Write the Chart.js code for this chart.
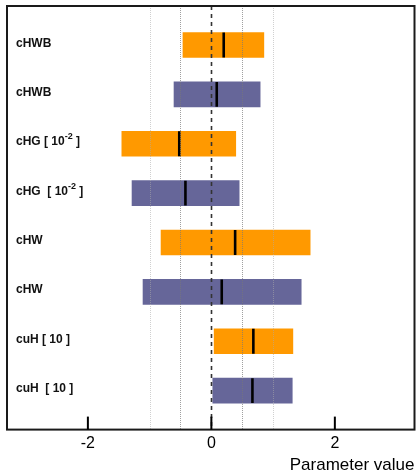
<!DOCTYPE html>
<html>
<head>
<meta charset="utf-8">
<script src="https://cdn.jsdelivr.net/npm/chart.js@4/dist/chart.umd.min.js"></script>
<style>
  html, body { margin: 0; padding: 0; background: #ffffff; }
  #wrap { width: 416px; height: 474px; position: relative; }
</style>
</head>
<body>
<div id="wrap"><canvas id="chart"></canvas></div>
<script>
// Row labels, top to bottom. "^{...}" marks a superscript.
const rowLabels = [
  'cHWB',
  'cHWB',
  'cHG [ 10^{-2} ]',
  'cHG  [ 10^{-2} ]',
  'cHW',
  'cHW',
  'cuH [ 10 ]',
  'cuH  [ 10 ]'
];

// Orange fit: rows, interval low/high, best value
const orangeRows = [0, 2, 4, 6];
const orangeLow  = [-0.46, -1.45, -0.815, 0.045];
const orangeHigh = [0.85, 0.395, 1.60, 1.32];
const orangeBest = [0.20, -0.52, 0.385, 0.68];

// Purple fit: rows, interval low/high, best value
const purpleRows = [1, 3, 5, 7];
const purpleLow  = [-0.605, -1.285, -1.107, 0.023];
const purpleHigh = [0.79, 0.45, 1.455, 1.31];
const purpleBest = [0.087, -0.42, 0.168, 0.665];

// Axis ticks and vertical guide lines (value units)
const xTicks = [-2, 0, 2];
const guideNear = [-0.5, 0.5];
const guideFar = [-1, 1];
const zeroLine = 0;

const FONT = "'Liberation Sans', Arial, Helvetica, sans-serif";
const ORANGE = '#ff9900';
const PURPLE = '#666699';

const intervals = (rows, lo, hi) => rows.map((r, i) => ({ y: r, x: [lo[i], hi[i]] }));
const points = (rows, v) => rows.map((r, i) => ({ y: r, x: v[i] }));

// Guides, zero line, frame, inner tick marks and row labels
const decorations = {
  id: 'decorations',
  afterDatasetsDraw(chart) {
    const { ctx, chartArea: a, scales: { x, y } } = chart;
    ctx.save();

    const vline = (v, color, width, dash) => {
      const px = Math.round(x.getPixelForValue(v)) + 0.5;
      ctx.beginPath();
      ctx.strokeStyle = color;
      ctx.lineWidth = width;
      ctx.setLineDash(dash);
      ctx.moveTo(px, a.top);
      ctx.lineTo(px, a.bottom);
      ctx.stroke();
    };
    guideFar.forEach(v => vline(v, 'rgba(170,170,170,0.55)', 1, [1, 1]));
    guideNear.forEach(v => vline(v, 'rgba(120,120,120,0.7)', 1, [1, 1]));
    vline(zeroLine, '#333333', 1.6, [4, 4]);
    ctx.setLineDash([]);

    // frame
    ctx.strokeStyle = '#1a1a1a';
    ctx.lineWidth = 2;
    ctx.strokeRect(a.left, a.top, a.right - a.left, a.bottom - a.top);

    // tick marks pointing into the plot
    ctx.lineWidth = 2;
    ctx.strokeStyle = '#000000';
    xTicks.forEach(v => {
      const px = x.getPixelForValue(v);
      ctx.beginPath();
      ctx.moveTo(px, a.bottom);
      ctx.lineTo(px, a.bottom - 13);
      ctx.stroke();
    });

    // row labels with optional superscript
    ctx.fillStyle = '#111111';
    ctx.textAlign = 'left';
    ctx.textBaseline = 'alphabetic';
    rowLabels.forEach((label, i) => {
      const base = y.getPixelForValue(i) + 1.5;
      let cx = a.left + 9;
      const parts = label.split(/(\^\{[^}]*\})/);
      parts.forEach(p => {
        if (!p) return;
        const sup = p.startsWith('^{');
        const txt = sup ? p.slice(2, -1) : p;
        ctx.font = sup ? `bold 9px ${FONT}` : `bold 12px ${FONT}`;
        ctx.fillText(txt, cx, sup ? base - 6 : base);
        cx += ctx.measureText(txt).width;
      });
    });
    ctx.restore();
  }
};

new Chart(document.getElementById('chart'), {
  data: {
    datasets: [
      {
        type: 'scatter', label: 'orange best', order: 0,
        data: points(orangeRows, orangeBest),
        pointStyle: 'line', rotation: 90, radius: 12.4,
        borderColor: '#000000', borderWidth: 2.6, backgroundColor: '#000000'
      },
      {
        type: 'scatter', label: 'purple best', order: 0,
        data: points(purpleRows, purpleBest),
        pointStyle: 'line', rotation: 90, radius: 12.4,
        borderColor: '#000000', borderWidth: 2.6, backgroundColor: '#000000'
      },
      {
        type: 'bar', label: 'orange', order: 1, indexAxis: 'y', grouped: false,
        data: intervals(orangeRows, orangeLow, orangeHigh),
        backgroundColor: ORANGE, borderWidth: 0, barThickness: 25
      },
      {
        type: 'bar', label: 'purple', order: 1, indexAxis: 'y', grouped: false,
        data: intervals(purpleRows, purpleLow, purpleHigh),
        backgroundColor: PURPLE, borderWidth: 0, barThickness: 25
      }
    ]
  },
  options: {
    responsive: true,
    maintainAspectRatio: false,
    animation: false,
    events: [],
    layout: { autoPadding: false, padding: { left: 7, top: 6, right: 1.5, bottom: 0 } },
    plugins: { legend: { display: false }, tooltip: { enabled: false } },
    scales: {
      x: {
        type: 'linear', position: 'bottom', offset: false,
        min: -3.31, max: 3.29,
        afterBuildTicks: s => { s.ticks = xTicks.map(v => ({ value: v })); },
        grid: { display: false, drawTicks: false },
        border: { display: false },
        ticks: {
          color: '#000000', padding: 4.1, maxRotation: 0,
          font: { family: FONT, size: 16, lineHeight: 1.2 }
        },
        title: {
          display: true, text: 'Parameter value', align: 'end', color: '#000000',
          font: { family: FONT, size: 17, lineHeight: 1 },
          padding: { top: 0, bottom: 0 }
        }
      },
      y: {
        type: 'linear', reverse: true, display: false, offset: false,
        min: -0.79, max: 7.79
      }
    }
  },
  plugins: [decorations]
});
</script>
</body>
</html>
